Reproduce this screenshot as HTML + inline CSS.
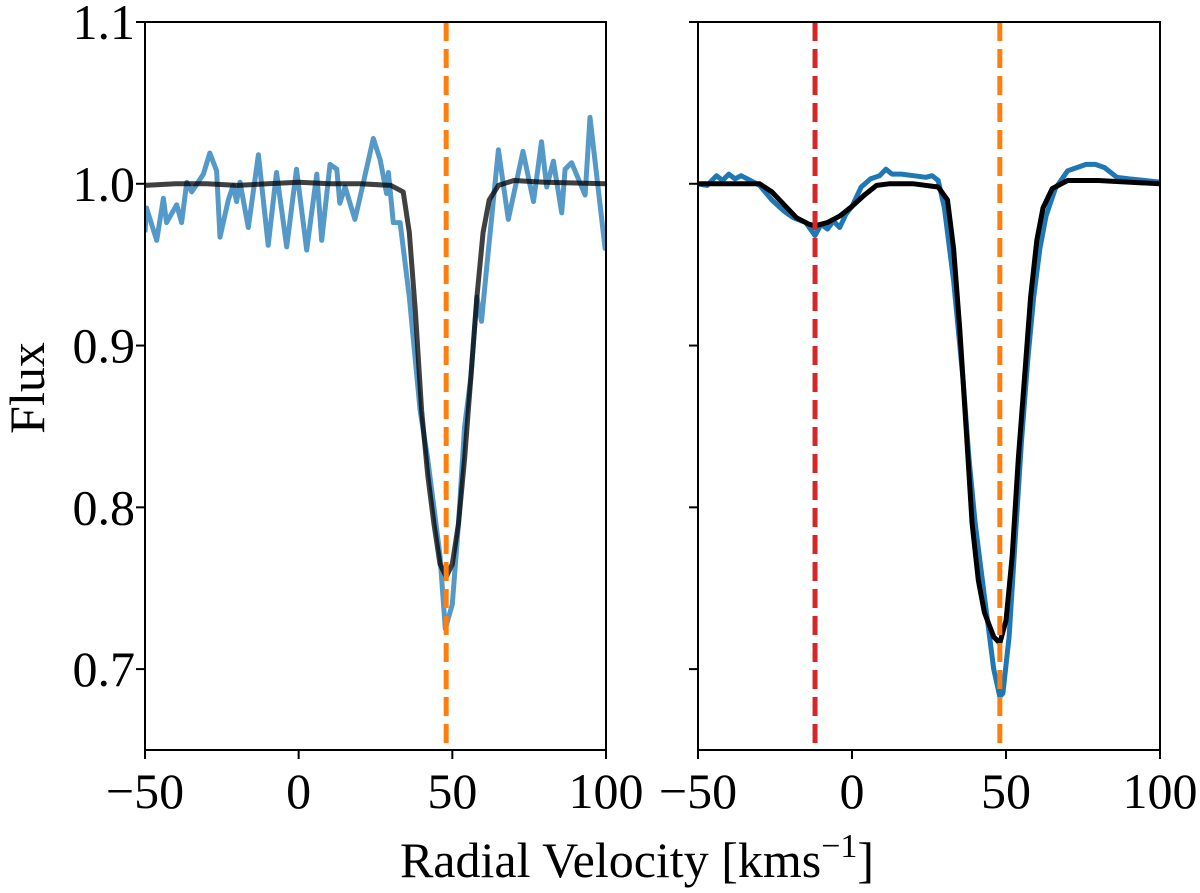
<!DOCTYPE html>
<html><head><meta charset="utf-8"><style>
html,body{margin:0;padding:0;background:#fff}
svg text{font-family:"Liberation Serif",serif;fill:#000}
</style></head><body>
<svg id="chart" width="1200" height="888" viewBox="0 0 1200 888"></svg>
<script>
// ---- data ----
const xTicks = [-50, 0, 50, 100];
const yTicks = [0.7, 0.8, 0.9, 1.0, 1.1];
const yTickLabels = ["0.7", "0.8", "0.9", "1.0", "1.1"];
const leftObsV = [-50,-49.5,-46.2,-44,-43,-39.7,-38.1,-36.4,-34.8,-31,-28.9,-26.7,-25.6,-22.9,-21.3,-20.2,-19.1,-16.4,-13.1,-9.9,-7.2,-3.9,-0.7,2.6,5.9,7.5,10.2,12.4,13.4,15.1,18.3,19.9,24.3,26.5,28.6,29.2,30.8,33,36,39.5,42,44,46,47.7,50,52,54,56,58,59.5,61.2,65,68.2,73,76.4,79,80.7,82.9,85.6,86.7,88.8,93.2,94.8,99.7,100];
const leftObsF = [0.97,0.985,0.965,0.991,0.976,0.987,0.976,1.001,0.995,1.006,1.019,1.008,0.967,0.99,0.999,0.989,1.001,0.973,1.018,0.962,1.007,0.961,1.009,0.959,1.006,0.965,1.012,1.009,0.988,0.998,0.978,0.991,1.028,1.015,0.994,1.007,0.976,0.976,0.93,0.86,0.83,0.8,0.77,0.725,0.74,0.79,0.85,0.88,0.93,0.915,0.949,1.021,0.978,1.02,0.989,1.026,0.998,1.014,0.982,1.009,1.013,0.993,1.041,0.96,0.962];
const leftModelV = [-50,-40,-30,-20,-10,0,10,20,30,34,36,38,40,42,44,46,48,50,52,54,56,58,60,62,65,70,80,100];
const leftModelF = [0.999,1.0,1.0,0.999,1.0,1.001,1.0,1.0,0.999,0.995,0.97,0.92,0.86,0.82,0.79,0.765,0.757,0.765,0.79,0.83,0.88,0.93,0.97,0.99,0.999,1.002,1.001,1.0];
const rightObsV = [-50,-47,-44,-42,-40,-38,-36,-33,-30,-26,-22,-19,-15,-12,-10,-8,-6,-4,-2,0,3,6,9,11,13,16,20,24,26,28,30,33,36,38,40,43,46,48,49,51,53,55,57,59,61,63,66,70,73,76,79,82,86,90,95,100];
const rightObsF = [1.0,0.999,1.005,1.002,1.006,1.003,1.005,1.002,0.999,0.99,0.983,0.979,0.976,0.968,0.975,0.972,0.977,0.973,0.981,0.986,0.998,1.003,1.005,1.009,1.006,1.006,1.005,1.004,1.005,1.002,0.985,0.94,0.88,0.83,0.79,0.745,0.70,0.683,0.685,0.72,0.78,0.84,0.89,0.93,0.96,0.98,0.997,1.008,1.01,1.012,1.012,1.01,1.004,1.003,1.002,1.001];
const rightModelV = [-50,-30,-26,-22,-18,-14,-12,-8,-4,0,4,8,12,20,28,31,33,35,37,39,41,43,46,48,50,52,54,56,58,60,62,65,70,80,100];
const rightModelF = [1.0,1.0,0.995,0.987,0.979,0.975,0.974,0.976,0.98,0.986,0.993,0.999,1.0,1.0,0.998,0.99,0.96,0.91,0.85,0.79,0.755,0.735,0.72,0.716,0.73,0.77,0.83,0.88,0.93,0.965,0.985,0.997,1.002,1.002,1.0];
const leftLines = [48];
const rightLines = [-12, 48];
const rightLineColors = ["#d62728", "#ff7f0e"];

// ---- layout ----
const NS = "http://www.w3.org/2000/svg";
const svg = document.getElementById("chart");
const yTop = 22, yBot = 750, yMin = 0.65, yMax = 1.1, xMin = -50, xMax = 100;
const panels = [{x0:145,x1:606,name:"left"},{x0:698,x1:1160,name:"right"}];
function sx(p, v){ return p.x0 + (v - xMin) / (xMax - xMin) * (p.x1 - p.x0); }
function sy(f){ return yBot - (f - yMin) / (yMax - yMin) * (yBot - yTop); }
function mk(tag, attrs, parent){
  const e = document.createElementNS(NS, tag);
  for (const k in attrs) e.setAttribute(k, attrs[k]);
  (parent || svg).appendChild(e);
  return e;
}
function poly(p, vs, fs, color, w, name){
  const pts = vs.map((v, i) => sx(p, v).toFixed(1) + "," + sy(fs[i]).toFixed(1)).join(" ");
  const e = mk("polyline", {points: pts, fill: "none", stroke: color, "stroke-width": w, "stroke-linejoin": "round"});
  
  
  return e;
}
panels.forEach((p, pi) => {
  const g = mk("g", {"clip-path": "url(#clip" + pi + ")"});
  
  
  const cp = mk("clipPath", {id: "clip" + pi});
  mk("rect", {x: p.x0, y: yTop, width: p.x1 - p.x0, height: yBot - yTop}, cp);
  const lines = pi === 0 ? leftLines : rightLines;
  const obsV = pi === 0 ? leftObsV : rightObsV, obsF = pi === 0 ? leftObsF : rightObsF;
  const modV = pi === 0 ? leftModelV : rightModelV, modF = pi === 0 ? leftModelF : rightModelF;
  g.appendChild(poly(p, obsV, obsF, pi === 0 ? "#5599c8" : "#1f77b4", 5, p.name + "-observed-spectrum"));
  g.appendChild(poly(p, modV, modF, pi === 0 ? "rgba(0,0,0,0.75)" : "#000", 5, p.name + "-model-spectrum"));
  lines.forEach((v, i) => {
    const col = pi === 0 ? "#ff7f0e" : rightLineColors[i];
    const l = mk("line", {x1: sx(p, v), x2: sx(p, v), y1: yTop, y2: yBot, stroke: col, "stroke-width": 5, "stroke-dasharray": "19,8"}, g);
    
    
  });
  const fr = mk("rect", {x: p.x0, y: yTop, width: p.x1 - p.x0, height: yBot - yTop, fill: "none", stroke: "#000", "stroke-width": 2});
  
  
  xTicks.forEach(t => {
    const x = sx(p, t);
    mk("line", {x1: x, x2: x, y1: yBot, y2: yBot + 9, stroke: "#000", "stroke-width": 2});
    const tx = mk("text", {x: x, y: 808, "font-size": 50, "text-anchor": "middle"});
    tx.textContent = t < 0 ? "\u2212" + Math.abs(t) : String(t);
    
    
  });
  yTicks.forEach((t, i) => {
    const y = sy(t);
    mk("line", {x1: p.x0 - 9, x2: p.x0, y1: y, y2: y, stroke: "#000", "stroke-width": 2});
    if (pi === 0) {
      const ty = mk("text", {x: 135, y: y + 17, "font-size": 50, "text-anchor": "end"});
      ty.textContent = yTickLabels[i];
      
      
    }
  });
});
const yl = mk("text", {x: 0, y: 0, "font-size": 50, "text-anchor": "middle", transform: "translate(44,388) rotate(-90)"});
yl.textContent = "Flux";


const xl = mk("text", {x: 637, y: 877, "font-size": 50, "text-anchor": "middle"});
xl.innerHTML = 'Radial Velocity [kms<tspan dy="-20" font-size="34">\u22121</tspan><tspan dy="20">]</tspan>';


</script>
</body></html>
